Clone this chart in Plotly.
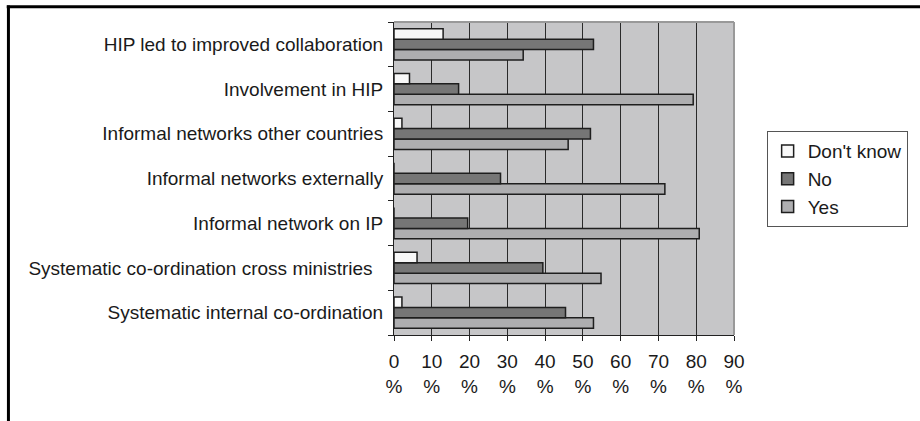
import plotly.graph_objects as go

# Survey items, listed bottom-to-top as they appear on the category axis
categories = [
    "Systematic internal co-ordination",
    "Systematic co-ordination cross ministries\u00a0\u00a0",
    "Informal network on IP",
    "Informal networks externally",
    "Informal networks other countries",
    "Involvement in HIP",
    "HIP led to improved collaboration",
]

# Share of respondents (%) per answer
yes_pct = [52.8, 54.8, 80.8, 71.7, 46.1, 79.2, 34.2]
no_pct = [45.4, 39.4, 19.5, 28.2, 52.0, 17.1, 52.8]
dont_know_pct = [2.1, 6.1, 0.0, 0.0, 2.1, 4.1, 13.0]

tick_vals = [0, 10, 20, 30, 40, 50, 60, 70, 80, 90]
tick_text = [f"{v}<br>%" for v in tick_vals]

FONT = "Liberation Sans, Arial, sans-serif"
outline = dict(color="#1e1e1e", width=1.5)

fig = go.Figure()
fig.add_trace(go.Bar(name="Yes", y=categories, x=yes_pct, orientation="h",
                     marker=dict(color="#aeaeb0", line=outline)))
fig.add_trace(go.Bar(name="No", y=categories, x=no_pct, orientation="h",
                     marker=dict(color="#767676", line=outline)))
fig.add_trace(go.Bar(name="Don't know", y=categories, x=dont_know_pct, orientation="h",
                     marker=dict(color="#f8f8f8", line=outline)))

fig.update_layout(
    width=920, height=421,
    margin=dict(l=394, r=186, t=22, b=86, autoexpand=False),
    paper_bgcolor="white",
    plot_bgcolor="#c6c6c8",
    barmode="group",
    bargap=0.3,
    bargroupgap=0,
    font=dict(family=FONT, size=19, color="#1a1a1a"),
    legend=dict(
        traceorder="reversed",
        x=1.096, xanchor="left", y=0.498, yanchor="middle",
        bordercolor="#555555", borderwidth=1,
        bgcolor="white",
        font=dict(size=19),
        itemwidth=30,
        tracegroupgap=0,
    ),
    xaxis=dict(
        range=[0, 90],
        tickvals=tick_vals, ticktext=tick_text,
        showgrid=True, gridcolor="#2a2a2a", gridwidth=1,
        ticks="outside", ticklen=5, tickcolor="#222222",
        showline=True, linecolor="#222222", linewidth=1,
        mirror=False, zeroline=False,
        tickfont=dict(size=19),
        ticklabelstandoff=4,
        fixedrange=True,
    ),
    yaxis=dict(
        type="category",
        categoryorder="array", categoryarray=categories,
        tickson="boundaries",
        ticks="outside", ticklen=5, tickcolor="#222222",
        showline=True, linecolor="#222222", linewidth=1,
        showgrid=False,
        tickfont=dict(size=19),
        ticklabelstandoff=6,
        fixedrange=True,
    ),
    shapes=[
        # light border on the top and right of the plotting area
        dict(type="line", xref="paper", yref="paper", x0=0, x1=1, y0=1, y1=1,
             line=dict(color="#999999", width=2)),
        dict(type="line", xref="paper", yref="paper", x0=1, x1=1, y0=0, y1=1,
             line=dict(color="#999999", width=2)),
        # heavy frame along the top and left of the figure
        dict(type="line", xref="paper", yref="paper", x0=-1.139, x1=1.56,
             y0=1.049, y1=1.049, line=dict(color="black", width=3)),
        dict(type="line", xref="paper", yref="paper", x0=-1.134, x1=-1.134,
             y0=-0.3, y1=1.053, line=dict(color="black", width=3)),
    ],
)

fig.write_html("out.html")
